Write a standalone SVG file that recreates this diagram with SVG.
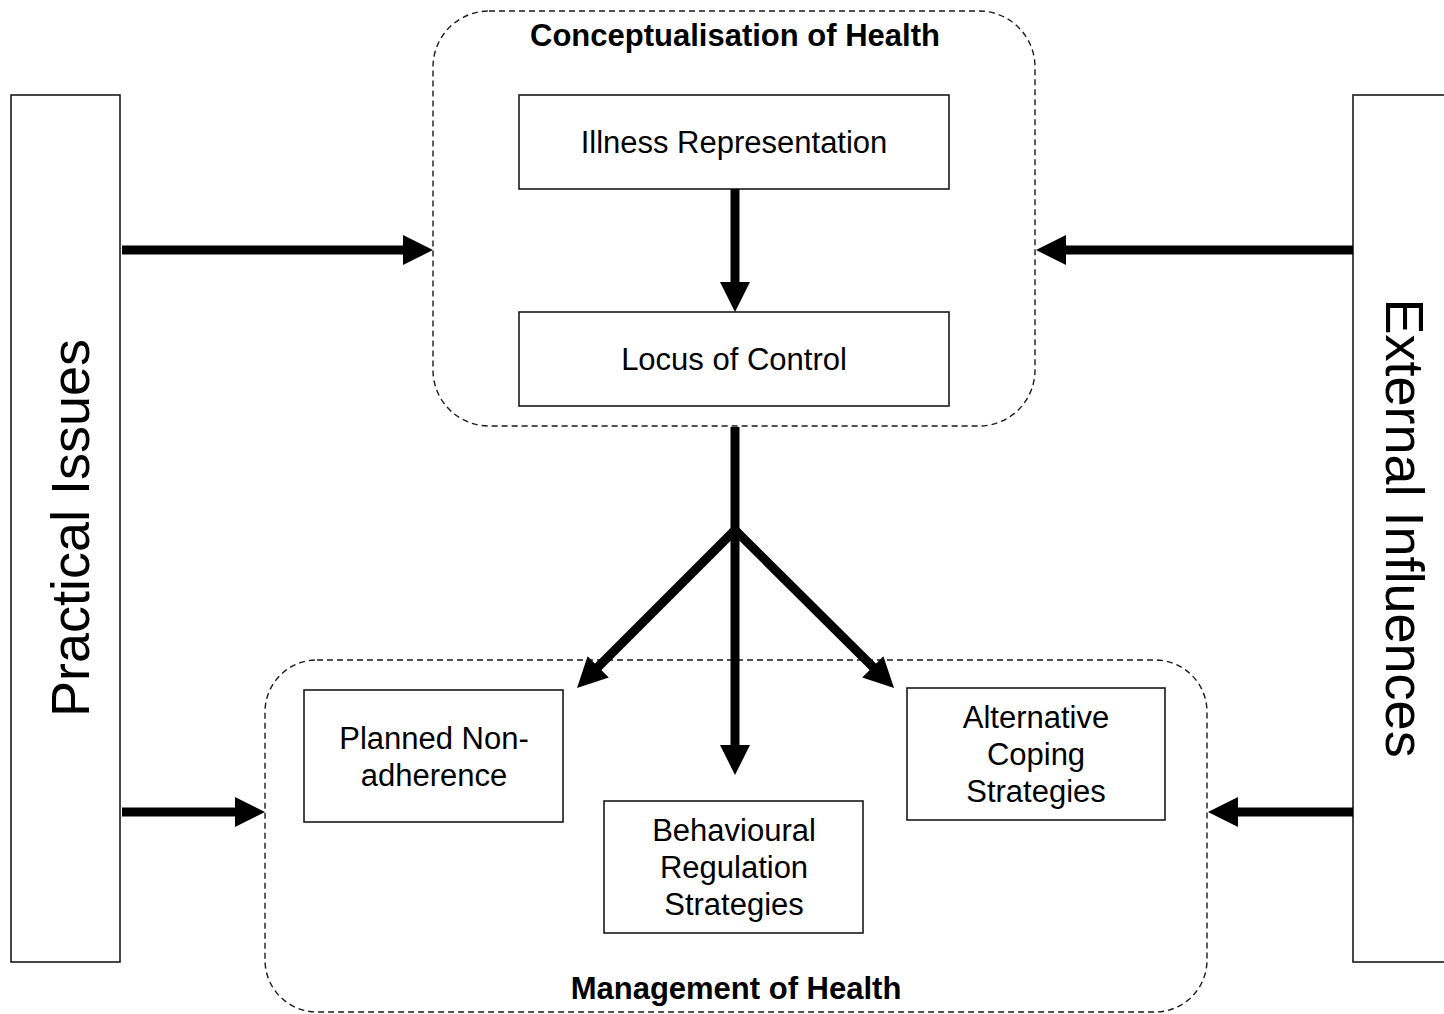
<svg xmlns="http://www.w3.org/2000/svg" width="1444" height="1014" viewBox="0 0 1444 1014">
<style>
.box{fill:#fff;stroke:#1a1a1a;stroke-width:1.6}
.grp{fill:none;stroke:#1a1a1a;stroke-width:1.4;stroke-dasharray:6 4}
.t{font-family:"Liberation Sans",Arial,sans-serif;font-size:31px;fill:#000;text-anchor:middle}
.tb{font-family:"Liberation Sans",Arial,sans-serif;font-size:31px;font-weight:bold;fill:#000;text-anchor:middle}
.tv{font-family:"Liberation Sans",Arial,sans-serif;font-size:54px;fill:#000;text-anchor:middle}
.c{fill:none;stroke:#000;stroke-width:9}
</style>
<defs>
<marker id="ah" viewBox="0 0 30 30" refX="1" refY="15" markerWidth="30" markerHeight="30" markerUnits="userSpaceOnUse" orient="auto">
<path d="M0,0 L30,15 L0,30 Z" fill="#000"/>
</marker>
</defs>
<rect width="1444" height="1014" fill="#fff"/>
<g id="practical-issues">
<rect class="box" x="11" y="95" width="109" height="867"/>
<text class="tv" transform="translate(89,528) rotate(-90)">Practical Issues</text>
</g>
<g id="external-influences">
<rect class="box" x="1353" y="95" width="110" height="867"/>
<text class="tv" transform="translate(1386,528) rotate(90)">External Influences</text>
</g>
<g id="conceptualisation">
<rect class="grp" x="433" y="11" width="602" height="415" rx="56" ry="56"/>
<text class="tb" x="735" y="46">Conceptualisation of Health</text>
</g>
<g id="illness-representation">
<rect class="box" x="519" y="95" width="430" height="94"/>
<text class="t" x="734" y="153">Illness Representation</text>
</g>
<g id="locus-of-control">
<rect class="box" x="519" y="312" width="430" height="94"/>
<text class="t" x="734" y="370">Locus of Control</text>
</g>
<g id="management">
<rect class="grp" x="265" y="660" width="942" height="352" rx="52" ry="52"/>
<text class="tb" x="736" y="999">Management of Health</text>
</g>
<g id="planned-non-adherence">
<rect class="box" x="304" y="690" width="259" height="132"/>
<text class="t" x="434" y="749">Planned Non-</text>
<text class="t" x="434" y="786">adherence</text>
</g>
<g id="behavioural-regulation">
<rect class="box" x="604" y="801" width="259" height="132"/>
<text class="t" x="734" y="841">Behavioural</text>
<text class="t" x="734" y="878">Regulation</text>
<text class="t" x="734" y="915">Strategies</text>
</g>
<g id="alternative-coping">
<rect class="box" x="907" y="688" width="258" height="132"/>
<text class="t" x="1036" y="728">Alternative</text>
<text class="t" x="1036" y="765">Coping</text>
<text class="t" x="1036" y="802">Strategies</text>
</g>
<g id="connectors">
<line class="c" x1="122" y1="250" x2="404" y2="250" marker-end="url(#ah)"/>
<line class="c" x1="1353" y1="250" x2="1065" y2="250" marker-end="url(#ah)"/>
<line class="c" x1="122" y1="812" x2="236" y2="812" marker-end="url(#ah)"/>
<line class="c" x1="1353" y1="812" x2="1237" y2="812" marker-end="url(#ah)"/>
<line class="c" x1="735" y1="189" x2="735" y2="283" marker-end="url(#ah)"/>
<path class="c" d="M735,427 L735,530"/>
<line class="c" x1="735" y1="530" x2="735" y2="746" marker-end="url(#ah)"/>
<line class="c" x1="738" y1="527" x2="597.5" y2="667.5" marker-end="url(#ah)"/>
<line class="c" x1="732" y1="527" x2="873.5" y2="667.5" marker-end="url(#ah)"/>
</g>
</svg>
